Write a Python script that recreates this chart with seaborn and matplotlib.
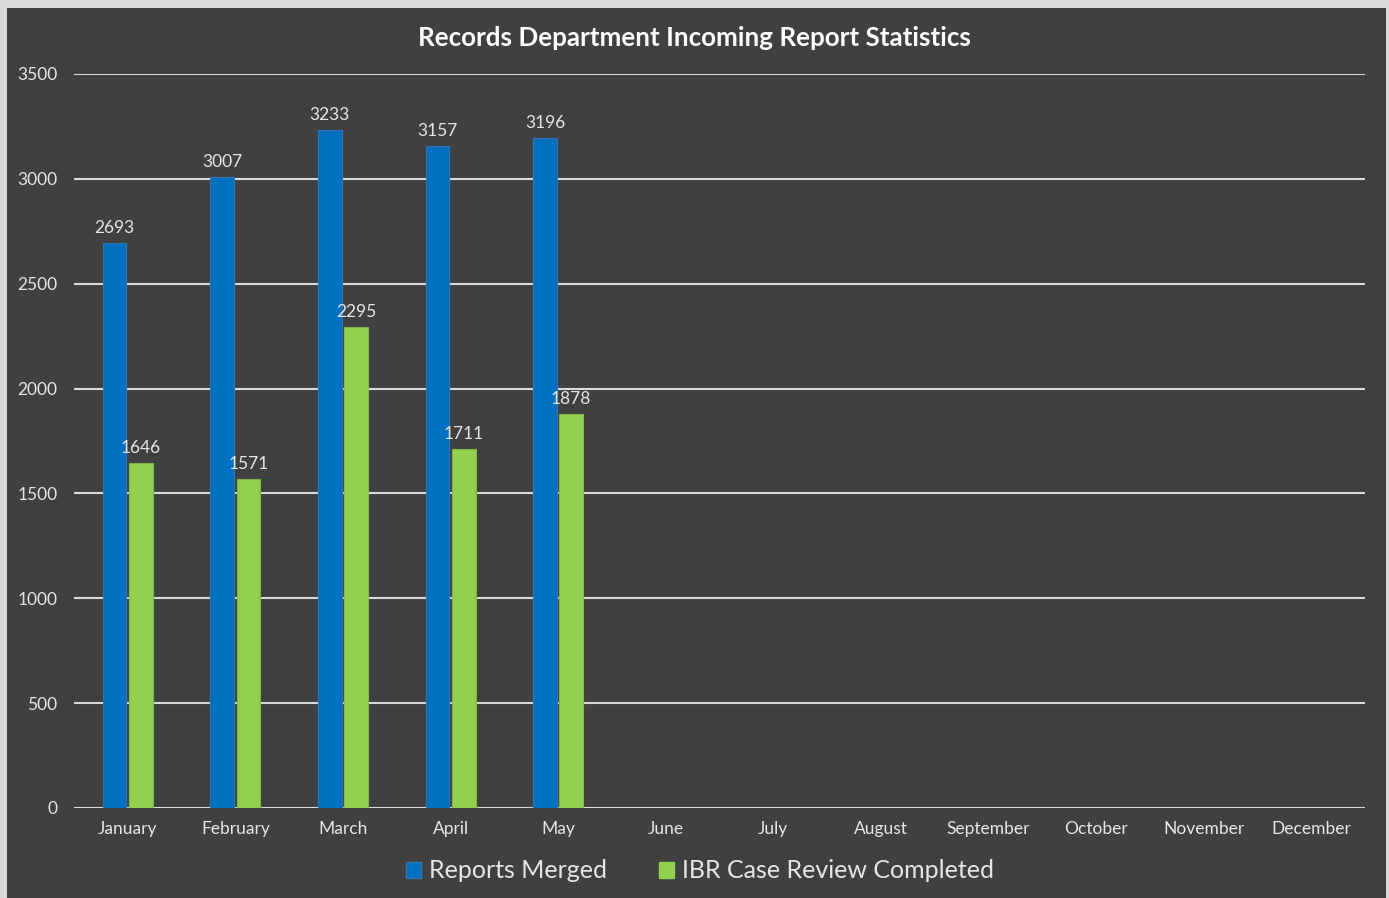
import matplotlib
matplotlib.use("Agg")
import matplotlib.pyplot as plt
import seaborn as sns
import pandas as pd
import numpy as np
from matplotlib.patches import Rectangle, Patch

months = ["January", "February", "March", "April", "May", "June", "July",
          "August", "September", "October", "November", "December"]
data_months = ["January", "February", "March", "April", "May"]
reports_merged = [2693, 3007, 3233, 3157, 3196]
ibr_completed = [1646, 1571, 2295, 1711, 1878]
series = ["Reports Merged", "IBR Case Review Completed"]
colors = ["#0070C0", "#92D050"]
yticks = [0, 500, 1000, 1500, 2000, 2500, 3000, 3500]

df = pd.DataFrame({
    "Month": data_months * 2,
    "Series": [series[0]] * len(data_months) + [series[1]] * len(data_months),
    "Value": reports_merged + ibr_completed,
})

sns.set_theme(style="dark")
plt.rcParams['font.family'] = ['Lato', 'DejaVu Sans']
bg = "#404040"
txt = "#E6E6E6"

fig = plt.figure(figsize=(13.89, 8.98), dpi=100)
fig.patch.set_facecolor("#D9D9D9")
fig.patches.append(Rectangle((7/1389, 0), (1386-7)/1389, 1 - 8/898,
                             transform=fig.transFigure, facecolor=bg,
                             edgecolor="none", zorder=-10))
ax = fig.add_axes([74/1389, 1 - 808/898, (1365-74)/1389, (808-74)/898])
ax.set_zorder(1)
ax.set_facecolor(bg)

sns.barplot(data=df, x="Month", y="Value", hue="Series", order=months,
            hue_order=series, palette=colors, width=0.49, gap=0.1,
            ax=ax, legend=False, saturation=1, edgecolor=None)

for i, cont in enumerate(ax.containers):
    for bar in cont:
        bar.set_edgecolor("#2E75B6" if i == 0 else "#7FB842")
        bar.set_linewidth(0.8)
    ax.bar_label(cont, labels=[f"{int(v)}" for v in cont.datavalues],
                 padding=5, color=txt, fontsize=12.5)

ax.set_ylim(0, 3500)
ax.set_xlim(-0.5, 11.5)
ax.set_yticks(yticks)
ax.set_yticklabels([str(t) for t in yticks])
ax.grid(axis="y", color="#D9D9D9", linewidth=1.5)
ax.grid(axis="x", visible=False)
ax.set_axisbelow(True)
for s in ax.spines.values():
    s.set_visible(False)
ax.tick_params(axis="both", length=0, colors=txt, labelsize=12.5)
ax.tick_params(axis="x", pad=9.5)
ax.tick_params(axis="y", pad=12)
ax.set_xlabel("")
ax.set_ylabel("")

fig.text(0.5, 1 - 38/898, "Records Department Incoming Report Statistics",
         ha="center", va="center", color="white", fontsize=18.7, fontweight="bold")

handles = [Patch(facecolor=colors[0], edgecolor="#2E75B6"),
           Patch(facecolor=colors[1], edgecolor=colors[1])]
fig.legend(handles, series, loc="center", bbox_to_anchor=(0.504, 1 - 871/898),
           ncol=2, frameon=False, fontsize=18, labelcolor=txt,
           handlelength=0.6, handleheight=0.6, handletextpad=0.3,
           columnspacing=2.1)

fig.savefig("out.png", dpi=100, facecolor=fig.get_facecolor())
